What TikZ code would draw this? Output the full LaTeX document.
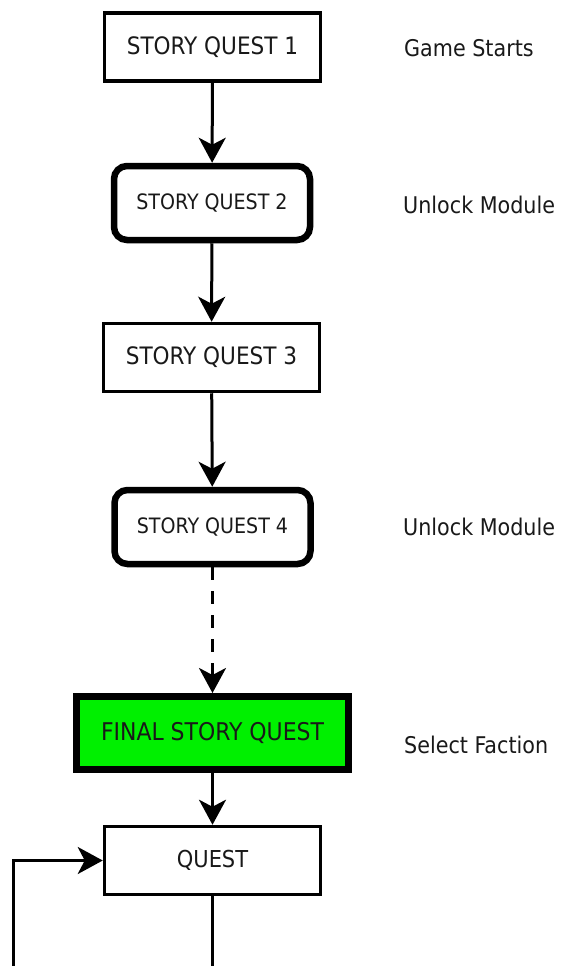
\documentclass[tikz,border=0pt]{standalone}
\usepackage{fontspec}
\setmainfont{DejaVu Sans Condensed}
\usetikzlibrary{arrows.meta}
\definecolor{fgreen}{RGB}{0,240,0}
\definecolor{txt}{RGB}{25,25,25}
\tikzset{
  plainbox/.style={draw=black, fill=white, text=txt, line width=3.5pt, minimum width=216pt, minimum height=68pt, inner sep=0pt, font=\fontsize{24}{28}\selectfont},
  roundbox/.style={draw=black, fill=white, text=txt, line width=6.5pt, rounded corners=13pt, minimum width=196pt, minimum height=74pt, inner sep=0pt, font=\fontsize{21.2}{25}\selectfont},
  finalbox/.style={draw=black, fill=fgreen, text=txt, line width=7pt, minimum width=272pt, minimum height=73pt, inner sep=0pt, font=\fontsize{24.4}{28}\selectfont},
  sidelabel/.style={anchor=west, inner sep=0pt, text=txt, font=\fontsize{23}{27}\selectfont},
  conn/.style={line width=3pt, -{Stealth[length=25pt, width=27pt, inset=7pt]}},
  plainline/.style={line width=3pt}
}
\begin{document}
\begin{tikzpicture}[x=1pt,y=-1pt]
\useasboundingbox (0,0) rectangle (560,966);
\node[plainbox] (q1) at (212.5,47) {STORY QUEST 1};
\node[roundbox] (q2) at (212,203) {STORY QUEST 2};
\node[plainbox] (q3) at (211.5,357.5) {STORY QUEST 3};
\node[roundbox] (q4) at (212.5,527) {STORY QUEST 4};
\node[finalbox] (fq) at (212.5,733) {FINAL STORY QUEST};
\node[plainbox, font=\fontsize{23.3}{27}\selectfont] (qu) at (212.5,860.5) {QUEST};

\node[sidelabel] (l1) at (404,48) {Game Starts};
\node[sidelabel] (l2) at (403,205) {Unlock Module};
\node[sidelabel] (l3) at (403,527) {Unlock Module};
\node[sidelabel] (l4) at (404,745) {Select Faction};

\coordinate (b1) at (212.5,972);
\coordinate (b2) at (13,972);

\draw[conn] (q1) -- (q2);
\draw[conn] (q2) -- (q3);
\draw[conn] (q3) -- (q4);
\draw[conn, dash pattern=on 13pt off 11pt] (q4) -- (fq);
\draw[conn] (fq) -- (qu);
\draw[plainline] (qu) -- (b1);
\draw[conn] (b2) |- (qu.west);
\end{tikzpicture}
\end{document}
